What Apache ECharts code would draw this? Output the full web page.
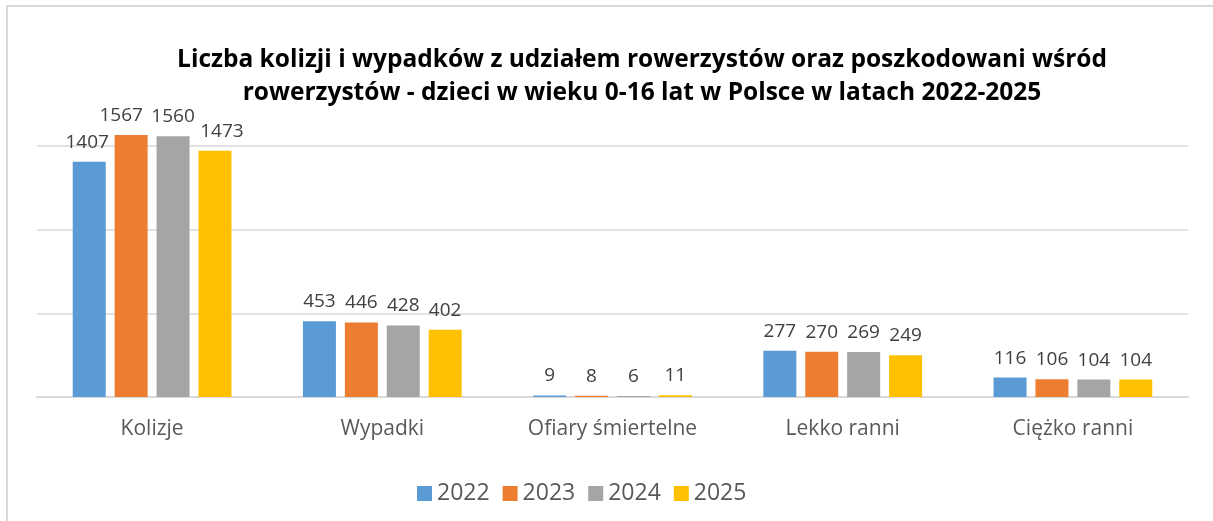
<!DOCTYPE html>
<html>
<head>
<meta charset="utf-8">
<script src="https://cdn.jsdelivr.net/npm/echarts@6/dist/echarts.min.js"></script>
<style>
    html, body { margin: 0; padding: 0; background: #fff; }
    #chart { width: 1213px; height: 521px; }
</style>
</head>
<body>
<div id="chart"></div>
<script>
    var categories = ['Kolizje', 'Wypadki', 'Ofiary śmiertelne', 'Lekko ranni', 'Ciężko ranni'];
    var years = ['2022', '2023', '2024', '2025'];
    var data2022 = [1407, 453, 9, 277, 116];
    var data2023 = [1567, 446, 8, 270, 106];
    var data2024 = [1560, 428, 6, 269, 104];
    var data2025 = [1473, 402, 11, 249, 104];
    var colors = ['#5B9BD5', '#ED7D31', '#A5A5A5', '#FFC000'];

    var myChart = echarts.init(document.getElementById('chart'));

    var seriesData = [data2022, data2023, data2024, data2025];
    // Excel nudged the crowded labels over the first group a little
    var firstLabelShift = [-2, -10, 0, 7];
    var series = [];
    for (var i = 0; i < years.length; i++) {
        var items = seriesData[i].map(function (v, j) {
            if (j === 0) {
                return { value: v, label: { offset: [firstLabelShift[i], 0] } };
            }
            return v;
        });
        series.push({
            name: years[i],
            type: 'bar',
            data: items,
            barWidth: 33,
            barGap: '27%',
            label: {
                show: true,
                position: 'top',
                distance: 10,
                color: '#404040',
                fontFamily: 'Open Sans',
                fontSize: 19
            }
        });
    }

    var option = {
        color: colors,
        backgroundColor: '#fff',
        animation: false,
        title: {
            text: 'Liczba kolizji i wypadków z udziałem rowerzystów oraz poszkodowani wśród\nrowerzystów - dzieci w wieku 0-16 lat w Polsce w latach 2022-2025',
            left: 637,
            top: 39,
            textAlign: 'center',
            textStyle: {
                fontFamily: 'Open Sans',
                fontWeight: 'bold',
                fontSize: 24.5,
                lineHeight: 33,
                color: '#000'
            }
        },
        legend: {
            data: years,
            left: 412,
            top: 477,
            itemWidth: 15,
            itemHeight: 15,
            itemGap: 13,
            icon: 'rect',
            textStyle: {
                fontFamily: 'Open Sans',
                fontSize: 23,
                color: '#595959'
            }
        },
        grid: {
            left: 37,
            right: 25,
            top: 96,
            bottom: 124
        },
        xAxis: [
            {
                type: 'category',
                data: categories,
                axisTick: { show: false },
                axisLine: {
                    lineStyle: { color: '#D9D9D9', width: 2 }
                },
                axisLabel: {
                    margin: 22,
                    fontFamily: 'Open Sans',
                    fontSize: 21,
                    color: '#595959'
                }
            }
        ],
        yAxis: [
            {
                type: 'value',
                min: 0,
                max: 1800,
                interval: 500,
                axisLabel: { show: false },
                axisLine: { show: false },
                axisTick: { show: false },
                splitLine: {
                    showMaxLine: false,
                    lineStyle: { color: '#D9D9D9', width: 1.5 }
                }
            }
        ],
        graphic: [
            {
                type: 'rect',
                shape: { x: 7, y: 6, width: 1400, height: 700 },
                style: { fill: 'none', stroke: '#D9D9D9', lineWidth: 2 },
                silent: true
            }
        ],
        series: series
    };

    myChart.setOption(option);
</script>
</body>
</html>
